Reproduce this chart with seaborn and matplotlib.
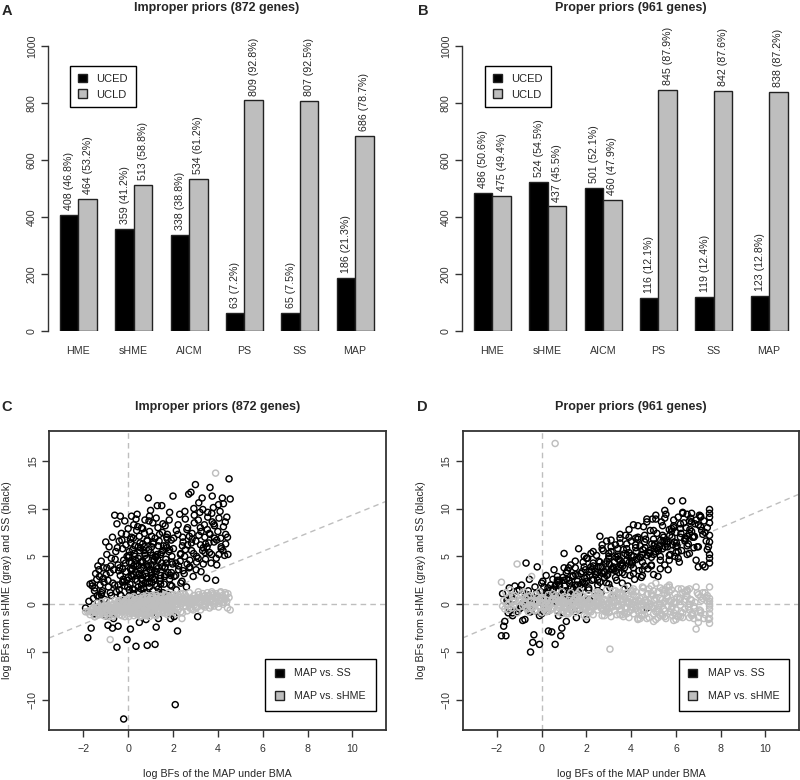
import pandas as pd
import seaborn as sns
import matplotlib.pyplot as plt
from matplotlib.patches import Patch

methods = ['HME', 'sHME', 'AICM', 'PS', 'SS', 'MAP']
models = ['UCED', 'UCLD']
improper_uced = [408, 359, 338, 63, 65, 186]
improper_ucld = [464, 513, 534, 809, 807, 686]
proper_uced = [486, 524, 501, 116, 119, 123]
proper_ucld = [475, 437, 460, 845, 842, 838]
n_improper = 872
n_proper = 961

# panel C: improper priors, one entry per gene (subset)
c_x = [-1.80, -1.75, -1.65, -1.60, -1.60, -1.55, -1.50, -1.45, -1.40, -1.35,
       -1.30, -1.30, -1.25, -1.20, -1.15, -1.10, -1.10, -1.05, -1.00, -1.00,
       -0.95, -0.90, -0.90, -0.85, -0.80, -0.80, -0.75, -0.70, -0.70, -0.65,
       -0.60, -0.60, -0.55, -0.50, -0.50, -0.45, -0.45, -0.40, -0.40, -0.35,
       -0.35, -0.30, -0.30, -0.25, -0.25, -0.20, -0.20, -0.15, -0.15, -0.10,
       -0.10, -0.05, -0.05, 0.00, 0.00, 0.05, 0.05, 0.10, 0.10, 0.15,
       0.15, 0.20, 0.20, 0.25, 0.25, 0.30, 0.30, 0.35, 0.35, 0.40,
       0.40, 0.45, 0.45, 0.50, 0.50, 0.55, 0.55, 0.60, 0.60, 0.65,
       0.65, 0.70, 0.70, 0.75, 0.75, 0.80, 0.80, 0.85, 0.85, 0.90,
       0.90, 0.95, 0.95, 1.00, 1.00, 1.05, 1.05, 1.10, 1.10, 1.15,
       1.15, 1.20, 1.20, 1.25, 1.25, 1.30, 1.30, 1.35, 1.40, 1.45,
       1.50, 1.55, 1.60, 1.65, 1.70, 1.75, 1.80, 1.85, 1.90, 1.95,
       2.00, 2.05, 2.10, 2.15, 2.20, 2.25, 2.30, 2.35, 2.40, 2.45,
       2.50, 2.55, 2.60, 2.65, 2.70, 2.75, 2.80, 2.85, 2.90, 2.95,
       3.00, 3.05, 3.10, 3.15, 3.20, 3.25, 3.30, 3.35, 3.40, 3.45,
       3.50, 3.55, 3.60, 3.65, 3.70, 3.75, 3.80, 3.85, 3.90, 3.95,
       4.00, 4.05, 4.10, 4.15, 4.20, 4.25, 4.30, 4.35, 4.40, 4.50,
       0.02, 0.08, 0.12, 0.18, 0.22, 0.28, 0.32, 0.38, 0.42, 0.48,
       0.52, 0.58, 0.62, 0.68, 0.72, 0.78, 0.82, 0.88, 0.92, 0.98,
       1.02, 1.08, 1.12, 1.18, 1.22, 1.28, 1.32, 1.38, 1.42, 1.48,
       1.52, 1.58, 1.62, 1.68, 1.72, 1.78, 1.82, 1.88, 1.92, 1.98,
       2.02, 2.12, 2.22, 2.32, 2.42, 2.52, 2.62, 2.72, 2.82, 2.92,
       3.02, 3.12, 3.22, 3.32, 3.42, 3.52, 3.62, 3.72, 3.82, 4.55,
       -0.02, -0.12, -0.22, -0.32, -0.42, -0.52, 0.07, 0.17, 0.27, 0.37,
       0.47, 0.57, 0.67, 0.77, 0.87, 0.97, 1.07, 1.17, 1.27, 1.37,
       -0.48, -0.38, -0.28, -0.18, -0.08, 0.03, 0.13, 0.23, 0.33, 0.43,
       0.53, 0.63, 0.73, 0.83, 0.93, 1.03, 1.13, 1.23, 1.33, 1.43,
       1.53, 1.63, 1.73, 1.83, 1.93, 2.03, 2.13, 2.23, 2.33, 2.43,
       2.53, 2.63, 2.73, 2.83, 2.93, 3.03, 3.13, 3.23, 3.33, 3.43,
       3.53, 3.63, 3.73, 3.83, 3.93, 4.03, 4.13, 4.23, 4.33, 4.43,
       -1.48, -1.38, -1.28, -1.18, -1.08, -0.98, -0.88, -0.78, -0.68, -0.58,
       -0.45, -0.35, -0.25, -0.15, -0.05, 0.05, 0.15, 0.25, 0.35, 0.45,
       0.55, 0.65, 0.75, 0.85, 0.95, 1.05, 1.15, 1.25, 1.35, 1.45,
       1.55, 1.65, 1.75, 1.85, 1.95, 2.05, 2.15, 2.25, 2.35, 2.45,
       0.05, 0.15, 0.25, 0.35, 0.45, 0.55, 0.65, 0.75, 0.85, 0.95,
       1.05, 1.15, 1.25, 1.35, 1.45, 1.55, 1.65, 1.75, 1.85, 1.95,
       -1.90, -1.70, -1.50, -1.35, -1.20, -1.05, -0.95, -0.85, -0.75, -0.65,
       2.55, 2.65, 2.75, 2.85, 2.95, 3.05, 3.15, 3.25, 3.35, 3.45,
       3.55, 3.65, 3.75, 3.85, 3.95, 4.05, 4.15, 4.25, 4.35, 4.45,
       0.10, 0.30, 0.50, 0.70, 0.90, 1.10, 1.30, 1.50, 1.70, 1.90]
c_ss = [-3.5, 0.3, -2.5, 2.2, 1.9, 0.6, 1.4, 3.2, 2.6, 4.0,
        0.8, 3.6, 2.0, 4.5, 1.4, 3.8, 2.7, 0.5, 6.5, -1.2,
        5.2, -2.2, 2.5, 6.0, 3.3, 1.2, 4.8, -2.5, 7.0, 3.6,
        9.3, 2.0, 5.5, -4.5, 8.4, -2.3, 4.1, 6.6, 1.5, 9.2,
        3.0, 7.4, 0.4, 5.8, 2.3, -12.0, 4.6, 8.7, 1.9, 6.2,
        3.4, -3.7, 5.0, 7.9, 2.8, 0.9, 4.4, -2.6, 6.8, 3.5,
        9.2, 1.6, 5.7, 3.1, 8.3, 0.5, 6.1, -4.4, 4.2, 2.4,
        9.4, 4.8, 1.3, -1.9, 7.1, 3.6, 5.9, 2.0, 8.0, 4.5,
        6.3, 1.0, 3.8, 8.8, 5.1, -1.6, 2.9, 6.7, -4.3, 11.1,
        4.0, 7.6, 2.2, 5.4, 9.8, 3.3, 6.0, 1.4, 8.5, 4.7,
        2.6, -4.2, 6.9, 3.9, -2.4, 10.3, 5.2, -1.5, 7.3, 3.0,
        10.3, 5.6, 2.1, 8.2, 4.3, 6.8, 1.0, 9.6, -1.5, 5.0,
        11.3, -1.3, -10.5, 7.7, -2.8, 3.6, 9.4, 5.3, 2.4, 6.5,
        3.2, 8.9, 1.8, 6.2, 11.5, 4.6, 11.7, 7.4, 2.9, 9.3,
        12.5, 4.4, -1.3, 7.2, 9.6, 3.4, 11.1, 5.9, 8.3, 4.7,
        2.7, 9.1, 6.4, 12.2, 4.3, 8.6, 10.1, 6.9, 2.5, 4.1,
        7.6, 5.2, 9.7, 6.0, 11.1, 8.1, 5.1, 7.3, 9.1, 13.1,
        4.9, 2.1, 6.4, 3.7, 1.1, 5.3, 2.6, 7.7, 4.0, 3.1,
        5.6, 2.7, 4.4, 1.7, 6.0, 3.2, 4.8, 2.3, 5.7, 3.6,
        4.1, 2.8, 6.3, 3.5, 5.0, 1.9, 4.6, 6.6, 2.4, 5.4,
        3.9, 6.1, 2.9, 4.7, 7.0, 3.3, 5.5, 2.0, 6.7, 4.2,
        5.8, 3.0, 7.3, 4.5, 6.1, 5.0, 7.8, 3.8, 6.4, 5.3,
        6.6, 4.8, 8.0, 5.6, 7.0, 6.0, 7.4, 5.2, 8.4, 11.0,
        1.8, 4.3, 2.6, 0.9, 3.5, 1.3, 0.2, 2.9, 1.5, -0.8,
        0.7, 1.6, -0.5, 2.2, 0.4, 1.0, -0.9, 2.6, 0.1, 1.2,
        5.9, 3.8, 6.7, 2.4, 7.3, 5.1, 3.0, 6.9, 4.6, 8.1,
        6.4, 2.5, 7.4, 4.1, 8.7, 3.0, 6.5, 4.9, 8.0, 2.7,
        7.5, 3.8, 5.9, 8.8, 3.3, 6.9, 4.3, 8.3, 5.2, 7.0,
        9.7, 4.2, 7.1, 5.6, 10.0, 3.6, 8.8, 6.2, 9.9, 5.4,
        7.8, 5.4, 9.5, 6.5, 4.8, 10.4, 6.9, 5.6, 8.6, 7.0,
        1.7, 0.9, 2.9, 1.2, 2.3, 3.1, 1.8, 4.0, 2.2, 4.7,
        2.0, 1.0, 3.7, 0.6, 2.5, 1.5, 4.3, 0.8, 3.3, 1.8,
        0.6, 3.0, 1.2, 3.9, 1.8, 2.3, 0.9, 3.4, 1.6, 2.1,
        1.2, 3.1, 0.4, 2.6, 1.9, 2.9, 1.5, 4.0, 2.2, 3.5,
        5.5, 7.0, 4.0, 8.9, 6.0, 4.4, 7.9, 5.3, 6.6, 9.2,
        7.1, 4.5, 9.0, 6.1, 5.2, 8.4, 3.9, 7.3, 5.7, 4.4,
        -0.4, 2.1, -1.0, 0.2, 1.0, -0.5, 3.8, -1.0, 0.9, -1.5,
        5.7, 8.0, 3.9, 6.8, 8.5, 5.0, 10.6, 7.6, 4.2, 6.3,
        9.6, 7.3, 11.3, 8.2, 6.7, 9.0, 5.8, 10.5, 6.3, 5.2,
        3.7, 5.0, 3.2, 5.6, 2.7, 5.1, 3.7, 4.3, 6.1, 3.0]
c_shme = [-0.8, -0.7, -0.6, -0.9, -0.5, -0.4, -0.8, -0.6, -0.3, -0.7,
          -0.5, -0.2, -0.6, -0.4, -1.0, -0.3, -0.5, -0.7, -0.1, -0.4,
          -0.3, -0.9, -0.5, -0.2, -3.7, -0.6, -0.1, -0.8, -0.4, 0.0,
          -0.3, -0.6, -0.2, -0.7, -0.1, -0.5, -0.3, 0.1, -0.4, -0.2,
          -0.6, 0.0, -0.8, -0.3, -0.1, 0.2, -0.5, -0.2, -0.4, 0.1,
          -0.3, -0.7, 0.0, -0.2, -0.5, 0.2, -0.6, -0.1, -0.4, -0.9,
          -0.5, 0.0, -0.2, -0.3, 0.1, -0.6, -0.4, -0.8, 0.0, -0.2,
          0.2, -0.3, -0.5, -0.9, 0.1, -0.2, -0.4, 0.3, -0.1, -0.6,
          0.0, -0.3, 0.2, -0.1, -0.5, -1.1, 0.1, -0.2, -0.7, 0.3,
          -0.4, 0.0, -0.6, 0.2, -0.2, 0.4, -0.3, -0.1, 0.1, -0.5,
          0.2, -0.2, 0.0, 0.3, -1.2, -0.1, 0.4, -0.5, 0.1, -0.3,
          0.3, -0.2, 0.5, 0.0, -0.4, 0.2, -0.3, 0.6, -0.8, 0.1,
          0.4, -0.5, 0.0, 0.6, -0.3, 0.2, 0.7, -0.1, -1.5, 0.3,
          0.5, -0.2, 0.8, 0.1, 0.4, -0.4, 0.6, 0.2, -0.6, 0.9,
          0.3, 0.7, -0.3, 1.0, 0.2, 0.5, -0.1, 0.8, 0.4, 0.0,
          0.6, 0.2, 0.9, 0.4, -0.2, 1.1, 0.3, 0.7, 13.7, 0.5,
          0.8, 0.1, 1.2, 0.4, 0.9, 0.2, 0.6, 1.0, 0.3, 0.7,
          -0.4, -0.2, 0.0, -0.5, -0.3, 0.1, -0.1, -0.4, -0.2, 0.0,
          -0.3, -0.1, -0.5, 0.1, -0.2, 0.0, -0.4, 0.2, -0.1, -0.3,
          0.1, -0.2, 0.0, 0.3, -0.4, 0.2, -0.1, 0.1, -0.3, 0.2,
          0.0, 0.3, -0.2, 0.4, 0.1, -0.1, 0.3, 0.0, 0.5, -0.2,
          0.2, 0.5, 0.0, 0.4, 0.1, 0.6, 0.3, -0.1, 0.5, 0.2,
          0.4, 0.7, 0.2, 0.6, 0.9, 0.3, 0.8, 0.5, 1.0, -0.6,
          -0.6, -0.4, -0.2, -0.7, -0.3, -0.5, -0.8, -0.3, -0.6, -1.0,
          -0.1, -0.6, 0.1, -0.4, -0.9, 0.0, -0.5, -0.2, -0.7, 0.0,
          -1.0, 0.4, -1.2, -0.6, 0.5, -1.3, 0.6, -0.9, 0.4, -1.1,
          0.6, -1.0, 0.7, -1.2, 0.5, -0.9, 0.8, -1.1, 0.6, -0.8,
          0.8, -0.9, 0.9, -0.7, 1.0, -0.8, 0.9, -0.6, 1.1, -0.9,
          1.0, -0.7, 1.2, -0.5, 0.9, -0.4, 1.3, -0.6, 1.1, -0.3,
          1.2, -0.4, 1.3, -0.2, 1.1, -0.3, 1.3, 0.0, 1.2, -0.4,
          -1.3, 0.1, -1.1, 0.2, -1.2, 0.3, -1.0, 0.2, -1.3, 0.4,
          0.3, -1.1, 0.5, -1.3, 0.4, -1.0, 0.6, -1.2, 0.5, -0.9,
          -1.2, 0.6, -1.0, 0.7, -1.3, 0.6, -1.1, 0.8, -0.9, 0.7,
          -0.9, 0.9, -1.1, 0.8, -0.7, 1.0, -1.0, 0.9, -0.8, 1.1,
          0.7, -0.9, 0.8, -1.0, 0.6, -1.3, 0.8, -1.2, 0.9, -1.0,
          0.9, -0.6, 1.0, -0.8, 0.8, -0.7, 1.0, -0.9, 0.7, -0.6,
          -0.8, -1.1, -1.3, -1.0, -0.9, -1.2, -0.7, -1.3, -0.8, -1.1,
          -0.2, 0.4, 0.1, 0.6, -0.1, 0.5, 0.2, 0.7, -0.2, 0.4,
          0.9, 0.3, 0.6, 0.1, 0.8, 0.4, 0.7, 0.2, 0.5, 1.1,
          0.0, 0.2, -0.1, 0.3, 0.0, 0.2, 0.1, 0.4, 0.2, 0.5]

# panel D: proper priors
d_x = [-1.80, -1.75, -1.70, -1.65, -1.60, -1.55, -1.50, -1.45, -1.40, -1.35,
       -1.30, -1.20, -1.10, -1.00, -0.90, -0.85, -0.80, -0.75, -0.70, -0.65,
       -0.60, -0.55, -0.50, -0.45, -0.40, -0.35, -0.30, -0.25, -0.20, -0.15,
       -0.10, -0.05, 0.00, 0.05, 0.10, 0.15, 0.20, 0.25, 0.30, 0.35,
       0.40, 0.45, 0.50, 0.55, 0.60, 0.65, 0.70, 0.75, 0.80, 0.85,
       0.90, 0.95, 1.00, 1.05, 1.10, 1.15, 1.20, 1.25, 1.30, 1.35,
       1.40, 1.45, 1.50, 1.55, 1.60, 1.65, 1.70, 1.75, 1.80, 1.85,
       1.90, 1.95, 2.00, 2.05, 2.10, 2.15, 2.20, 2.25, 2.30, 2.35,
       2.40, 2.45, 2.50, 2.55, 2.60, 2.65, 2.70, 2.75, 2.80, 2.85,
       2.90, 2.95, 3.00, 3.05, 3.10, 3.15, 3.20, 3.25, 3.30, 3.35,
       3.40, 3.45, 3.50, 3.55, 3.60, 3.65, 3.70, 3.75, 3.80, 3.85,
       3.90, 3.95, 4.00, 4.05, 4.10, 4.15, 4.20, 4.25, 4.30, 4.35,
       4.40, 4.45, 4.50, 4.55, 4.60, 4.65, 4.70, 4.75, 4.80, 4.85,
       4.90, 4.95, 5.00, 5.05, 5.10, 5.15, 5.20, 5.25, 5.30, 5.35,
       5.40, 5.45, 5.50, 5.55, 5.60, 5.65, 5.70, 5.75, 5.80, 5.85,
       5.90, 5.95, 6.00, 6.05, 6.10, 6.15, 6.20, 6.25, 6.30, 6.35,
       6.40, 6.50, 6.60, 6.70, 6.80, 6.90, 7.00, 7.10, 7.20, 7.30,
       7.40, 7.50, 7.50, 7.50, 7.50, 7.50, 7.50, 7.50, 7.50, 7.50,
       0.12, 0.32, 0.52, 0.72, 0.92, 1.12, 1.32, 1.52, 1.72, 1.92,
       2.12, 2.32, 2.52, 2.72, 2.92, 3.12, 3.32, 3.52, 3.72, 3.92,
       4.12, 4.32, 4.52, 4.72, 4.92, 5.12, 5.32, 5.52, 5.72, 5.92,
       1.02, 1.22, 1.42, 1.62, 1.82, 2.02, 2.22, 2.42, 2.62, 2.82,
       3.02, 3.22, 3.42, 3.62, 3.82, 4.02, 4.22, 4.42, 4.62, 4.82,
       5.02, 5.22, 5.42, 5.62, 5.82, 6.02, 6.22, 6.42, 6.62, 6.82,
       -1.25, -0.95, -0.72, -0.48, -0.22, 0.08, 0.28, 0.58, 0.78, 0.98,
       6.45, 6.55, 6.65, 6.75, 6.85, 6.95, 7.05, 7.15, 7.25, 7.35,
       -1.50, -1.30, -1.10, -0.90, -0.70, -0.50, -0.30, -0.10, 0.10, 0.30,
       0.50, 0.70, 0.90, 1.10, 1.30, 1.50, 1.70, 1.90, 2.10, 2.30,
       2.50, 2.70, 2.90, 3.10, 3.30, 3.50, 3.70, 3.90, 4.10, 4.30,
       4.50, 4.70, 4.90, 5.10, 5.30, 5.50, 5.70, 5.90, 6.10, 6.30,
       6.50, 6.70, 6.90, 7.10, 7.30, 7.45, 0.60, 1.60, 2.60, 3.60,
       1.00, 1.40, 1.80, 2.20, 2.60, 3.00, 3.40, 3.80, 4.20, 4.60,
       5.00, 5.40, 5.80, 6.20, 6.60, 7.00, 0.20, 0.60, 1.20, 1.60,
       2.00, 2.40, 2.80, 3.20, 3.60, 4.00, 4.40, 4.80, 5.20, 5.60,
       6.00, 6.40, 6.80, 7.20, -0.80, -0.40, 0.00, 0.40, 0.80, 1.20,
       1.50, 1.90, 2.30, 2.70, 3.10, 3.50, 3.90, 4.30, 4.70, 5.10,
       5.50, 5.90, 6.30, 6.70, 7.10, 0.90, 1.30, 1.70, 2.10, 2.50,
       2.90, 3.30, 3.70, 4.10, 4.50, 4.90, 5.30, 5.70, 6.10, 6.50,
       3.00, 3.40, 3.80, 4.20, 4.60, 5.00, 5.40, 5.80, 6.20, 6.60,
       0.00, 0.50, 1.00, 1.50, 2.00, 2.50, 3.00, 3.50, 4.00, 4.50,
       5.00, 5.50, 6.00, 6.50, 7.00, 7.40, -1.00, -0.60, -0.20, 0.20]
d_ss = [-3.3, 1.1, -2.3, -1.8, -3.3, 0.4, -0.9, 1.7, -0.6, 0.8,
        -1.2, 1.9, -0.8, 1.5, 2.0, -1.7, 0.2, -1.6, 4.3, 1.0,
        -0.3, 2.6, -5.0, 0.6, -4.0, -3.2, 1.8, -0.7, 3.9, 0.3,
        -4.2, 1.3, -1.0, 2.4, 0.6, -0.5, 3.0, 1.1, -2.8, 0.1,
        2.0, -2.9, 1.5, 3.6, -4.2, 0.8, 2.5, -1.2, 1.9, -3.3,
        -2.5, 2.8, 5.3, 1.4, -1.8, 3.5, 0.9, 2.2, 4.1, -0.6,
        2.9, 1.2, 3.8, -1.4, 2.4, 5.8, 0.5, 3.2, 1.7, 4.4,
        2.2, 3.6, -1.6, 4.8, 1.5, 3.0, 5.3, 2.5, 4.0, 0.8,
        3.4, 5.1, 2.0, 4.5, 7.1, 1.2, 3.9, 5.6, 2.8, 4.2,
        6.6, 3.1, 4.8, 1.7, 5.5, 3.6, 0.8, 4.4, 6.2, 2.5,
        5.0, 3.3, 6.9, 4.1, 2.2, 5.7, 3.8, 7.2, 4.6, 1.9,
        5.4, 3.0, 6.6, 4.3, 8.3, 2.6, 5.9, 4.7, 7.0, 3.5,
        6.1, 2.8, 5.2, 8.1, 4.0, 6.8, -0.4, 3.7, 5.6, 7.7,
        4.9, 8.9, 3.1, 6.3, 5.5, 7.4, 2.9, 6.0, 4.6, 8.6,
        5.8, 7.0, 4.1, 9.4, 6.5, 3.6, 7.8, 5.2, 10.8, 6.2,
        8.2, 5.0, 7.5, 6.1, 9.1, 4.4, 7.0, 5.6, 10.8, 8.5,
        6.8, 9.4, 5.3, 7.6, 5.9, 8.8, 3.9, 9.2, 4.1, 7.5,
        5.7, 9.9, 9.5, 9.1, 8.5, 7.2, 6.5, 5.2, 4.8, 4.3,
        0.9, 0.3, 1.6, 2.3, 1.0, 2.6, 1.8, 3.1, 2.0, 2.7,
        3.4, 2.6, 3.9, 3.2, 4.5, 3.7, 4.9, 4.1, 5.3, 4.4,
        5.0, 4.8, 5.7, 5.1, 6.3, 5.9, 6.7, 6.0, 7.2, 6.5,
        1.9, 2.5, 1.6, 3.0, 2.3, 2.8, 3.6, 3.1, 3.9, 3.4,
        4.2, 3.7, 4.7, 4.0, 5.1, 4.5, 5.5, 4.9, 5.9, 5.3,
        6.1, 5.6, 6.6, 6.0, 7.0, 6.4, 7.4, 6.9, 7.8, 7.1,
        0.5, -0.2, 0.9, -0.6, 1.2, 0.0, 1.7, 0.4, 2.1, 1.3,
        8.0, 6.3, 9.0, 7.0, 8.4, 6.0, 9.3, 7.7, 8.7, 6.6,
        0.3, -0.9, 1.4, -0.3, 0.9, -0.8, 0.6, -1.2, 1.8, -0.7,
        0.2, 2.9, -0.9, 3.3, -0.4, 2.0, -0.6, 3.9, 0.5, 4.3,
        1.4, 5.8, 2.2, 6.0, 2.8, 6.4, 1.6, 7.0, 3.2, 6.8,
        3.0, 8.6, 4.1, 8.9, 3.7, 9.0, 4.6, 8.0, 4.8, 9.6,
        5.2, 9.5, 4.6, 8.1, 3.9, 6.0, 0.9, 1.4, 2.3, 3.3,
        2.5, 3.0, 3.4, 3.9, 4.4, 5.0, 5.2, 5.8, 6.2, 6.5,
        6.8, 7.2, 7.6, 7.9, 7.4, 8.3, 1.2, 1.9, 1.1, 2.0,
        2.4, 3.1, 3.3, 3.9, 4.3, 4.1, 4.9, 5.4, 5.8, 6.3,
        6.0, 6.6, 7.0, 7.3, -0.1, 0.5, 0.8, 1.5, 2.5, 3.8,
        4.5, 5.0, 5.5, 6.2, 6.7, 7.3, 7.8, 8.2, 8.9, 9.3,
        9.8, 8.8, 9.5, 8.6, 9.1, 1.0, 0.4, 1.1, 1.7, 2.5,
        3.0, 3.5, 3.1, 3.8, 4.4, 4.0, 5.0, 5.1, 5.5, 6.1,
        5.3, 5.8, 6.3, 6.9, 7.2, 7.7, 8.2, 7.9, 8.4, 8.7,
        2.2, 2.6, 3.8, 1.0, 4.8, 3.3, 2.1, 4.6, 5.1, 3.6,
        5.2, 6.6, 5.4, 7.1, 6.0, 8.0, -0.5, 1.4, 0.2, -0.3]
d_shme = [2.3, -0.2, 0.4, -0.5, 1.2, -0.1, 0.7, 0.2, 1.5, -0.4,
          0.3, 0.9, 4.2, -0.3, 0.5, -0.2, 1.3, 0.1, 0.6, -0.5,
          0.8, -0.1, 0.4, 2.9, -0.4, 0.2, -0.6, 1.0, 0.3, -0.2,
          0.5, -0.3, 0.2, 0.7, -0.5, 0.1, -0.2, 0.4, -0.7, 0.0,
          0.3, -0.4, 0.6, 0.1, 16.8, 0.5, -0.6, 0.2, -0.1, 0.4,
          -1.0, 0.3, -0.3, 0.6, -0.5, 0.1, 0.4, -0.2, 0.2, -0.4,
          0.0, 0.5, -0.3, 0.2, -0.6, 0.4, 0.1, -0.2, 0.3, -0.5,
          0.2, -0.4, 0.6, -0.1, 0.3, -0.7, 0.1, 0.5, -0.3, 0.0,
          -0.2, 0.4, -0.6, 0.1, 0.7, -0.4, 0.2, -0.1, 0.5, -0.8,
          0.3, -0.5, 0.0, -4.7, 0.6, -0.3, 0.9, -0.7, 0.2, -1.1,
          0.4, -0.2, 1.0, -0.6, 0.3, -1.3, 0.7, -0.4, 1.2, 0.1,
          -0.8, 0.5, -0.3, 1.4, -1.0, 0.2, -0.5, 0.8, -1.6, 0.3,
          0.6, -1.2, 0.1, 1.7, -0.6, 0.4, -0.2, 1.1, -1.4, 0.0,
          -0.3, 0.9, -1.8, 0.5, 2.2, -0.7, 1.3, -0.1, 0.6, -1.0,
          1.5, -0.5, 0.3, -1.5, 0.9, -0.2, 1.8, -0.8, 0.4, -1.2,
          0.2, 1.1, -0.6, 0.7, -1.3, 0.5, -0.1, 1.6, -0.9, 0.3,
          -0.5, 0.8, -1.4, 0.4, -0.2, -2.6, 1.0, -0.7, 0.6, -1.1,
          0.3, -2.0, -1.5, -0.5, 0.0, 0.3, 1.8, -0.2, 0.6, -1.0,
          -0.2, 0.1, -0.4, 0.3, 0.0, -0.3, 0.2, -0.1, 0.4, -0.2,
          0.1, -0.3, 0.4, 0.0, -0.5, 0.3, -0.2, 0.5, -0.4, 0.2,
          -0.1, 0.4, -0.6, 0.2, -0.3, 0.6, 0.0, -0.7, 0.3, 0.1,
          0.2, -0.1, 0.3, -0.4, 0.0, 0.2, -0.3, 0.1, -0.2, 0.4,
          -0.3, 0.2, -0.1, 0.5, -0.4, 0.1, 0.3, -0.6, 0.2, -0.2,
          0.4, -0.5, 0.1, 0.7, -0.3, 0.2, -0.8, 0.5, 0.0, -0.4,
          -0.1, 0.4, 0.0, -0.3, 0.2, 0.5, -0.2, 0.1, -0.4, 0.3,
          0.9, -0.3, 0.5, -1.0, 0.2, 1.2, -0.6, 0.4, -1.5, 0.7,
          -0.6, 0.8, -0.9, 1.1, -0.4, 0.9, -0.7, 1.3, -0.5, 1.0,
          1.1, -0.8, 1.3, -1.0, 1.2, -0.9, 1.4, -1.2, 1.0, -1.1,
          1.3, -1.2, 1.5, -1.3, 1.4, -1.1, 1.7, -1.4, 1.6, -1.5,
          1.8, -1.5, 1.9, -1.6, 1.7, -1.3, 2.0, -1.7, 1.6, -1.4,
          1.5, -1.2, 1.8, -0.9, 1.2, -1.6, 0.6, 0.7, 0.9, 1.0,
          0.8, -0.6, 0.9, -0.8, 1.1, -0.9, 1.2, -1.0, 1.3, -1.1,
          1.4, -1.2, 1.5, -1.3, 1.6, -1.4, -0.8, 0.9, -1.0, 1.1,
          -1.3, 1.2, -1.2, 1.4, -1.1, 1.3, -1.5, 1.6, -1.4, 1.8,
          -1.6, 1.3, -1.5, 1.2, 0.2, -0.3, 0.6, -0.6, 0.4, -0.8,
          0.6, -0.4, 0.7, -0.5, 0.8, -0.6, 0.9, -0.7, 1.0, -0.8,
          1.1, -0.9, 1.2, -1.0, 0.8, 0.5, -0.5, 0.6, -0.6, 0.7,
          -0.7, 0.8, -0.9, 1.0, -1.1, 1.1, -1.2, 1.3, -1.3, 1.4,
          0.2, -0.2, 0.3, -0.3, 0.4, -0.4, 0.5, -0.5, 0.6, -0.6,
          -0.9, 0.5, -0.7, 0.9, -0.5, 1.1, -0.8, 1.2, -0.6, 1.3,
          -1.0, 1.5, -1.2, 1.3, -1.9, 0.9, 0.3, -0.8, 0.7, -0.4]

GRAY = '#bebebe'
EDGE = '#222222'
FS = 7.7

sns.set_theme(style='ticks')
plt.rcParams['font.family'] = ['Liberation Sans', 'DejaVu Sans']
plt.rcParams['axes.edgecolor'] = '#333333'
plt.rcParams['xtick.color'] = '#333333'
plt.rcParams['ytick.color'] = '#333333'

fig = plt.figure(figsize=(8, 7.8), dpi=100)


def bar_panel(rect, uced, ucld, n, title, letter, letter_x, leg_x):
    ax = fig.add_axes(rect)
    df = pd.DataFrame({'method': methods * 2,
                       'model': ['UCED'] * 6 + ['UCLD'] * 6,
                       'count': uced + ucld})
    sns.barplot(data=df, x='method', y='count', hue='model', hue_order=models,
                palette=['black', GRAY], saturation=1, width=2 / 3,
                edgecolor=EDGE, linewidth=1, legend=False, ax=ax)
    for cont, vals in zip(ax.containers, [uced, ucld]):
        labs = [f'{v} ({100 * v / n:.1f}%)' for v in vals]
        ax.bar_label(cont, labels=labs, rotation=90, padding=3.5, fontsize=FS)
    ax.set_xlim(-0.55, 5.55)
    ax.set_ylim(0, 1000)
    ax.set_yticks(range(0, 1001, 200))
    ax.set_xlabel('')
    ax.set_ylabel('')
    sns.despine(ax=ax, bottom=True)
    ax.tick_params(axis='x', length=0, pad=11, labelsize=FS)
    ax.tick_params(axis='y', length=5, width=1, pad=3, labelsize=FS, labelrotation=90)
    for lab in ax.get_yticklabels():
        lab.set_va('center')
    ax.spines['left'].set_linewidth(1)
    handles = [Patch(facecolor='black', edgecolor=EDGE), Patch(facecolor=GRAY, edgecolor=EDGE)]
    leg = ax.legend(handles, models, loc='upper left', bbox_to_anchor=(leg_x, 0.93),
                    borderaxespad=0, fancybox=False, framealpha=1, edgecolor='black',
                    fontsize=8, handlelength=0.8, handleheight=0.8, handletextpad=0.9,
                    labelspacing=0.5, borderpad=0.7)
    leg.get_frame().set_linewidth(1)
    fig.text(rect[0] + rect[2] / 2, 1 - 8 / 780, title, fontsize=9,
             fontweight='bold', ha='center', va='center')
    fig.text(letter_x / 800, 1 - 11 / 780, letter, fontsize=10.5,
             fontweight='bold', ha='center', va='center')
    return ax


def scatter_panel(rect, x, ss, shme, slope, intercept, title, letter, letter_x, lx):
    ax = fig.add_axes(rect)
    dash = dict(color=GRAY, lw=1, ls=(0, (4, 3)), zorder=0)
    ax.axhline(0, **dash)
    ax.axvline(0, **dash)
    ax.axline((0, intercept), slope=slope, **dash)
    sns.scatterplot(x=x, y=ss, ax=ax, marker='o', s=19, color='black',
                    facecolor='none', edgecolor='black', linewidth=1.05)
    sns.scatterplot(x=x, y=shme, ax=ax, marker='o', s=19, color=GRAY,
                    facecolor='none', edgecolor=GRAY, linewidth=1.05)
    ax.set_xlim(-3.53, 11.5)
    ax.set_ylim(-13.15, 18.1)
    ax.set_xticks([-2, 0, 2, 4, 6, 8, 10])
    ax.set_yticks([-10, -5, 0, 5, 10, 15])
    ax.tick_params(length=5, width=1, labelsize=FS)
    ax.tick_params(axis='x', pad=5)
    ax.tick_params(axis='y', pad=3, labelrotation=90)
    for lab in ax.get_yticklabels():
        lab.set_va('center')
    for sp in ax.spines.values():
        sp.set_linewidth(1.3)
    ax.set_xlabel('log BFs of the MAP under BMA', fontsize=FS)
    ax.set_ylabel('log BFs from sHME (gray) and SS (black)', fontsize=FS)
    ax.xaxis.set_label_coords(0.5, -44 / 299)
    ax.xaxis.label.set_va('center')
    ax.yaxis.set_label_coords(-42 / 337, 0.5)
    ax.yaxis.label.set_va('center')
    handles = [Patch(facecolor='black', edgecolor=EDGE), Patch(facecolor=GRAY, edgecolor=EDGE)]
    leg = ax.legend(handles, ['MAP vs. SS', 'MAP vs. sHME'], loc='lower right',
                    bbox_to_anchor=(lx, 0.064), borderaxespad=0, fancybox=False,
                    framealpha=1, edgecolor='black', fontsize=FS, handlelength=0.8,
                    handleheight=0.8, handletextpad=1.0, labelspacing=1.2, borderpad=0.9)
    leg.get_frame().set_linewidth(1)
    fig.text(rect[0] + rect[2] / 2, 1 - 407 / 780, title, fontsize=9,
             fontweight='bold', ha='center', va='center')
    fig.text(letter_x / 800, 1 - 407 / 780, letter, fontsize=10.5,
             fontweight='bold', ha='center', va='center')
    return ax


bar_panel([0.06, 0.5756, 0.4219, 0.3654], improper_uced, improper_ucld, n_improper,
          'Improper priors (872 genes)', 'A', 7, 0.065)
bar_panel([0.5775, 0.5756, 0.4219, 0.3654], proper_uced, proper_ucld, n_proper,
          'Proper priors (961 genes)', 'B', 423, 0.068)
scatter_panel([0.06125, 0.0641, 0.42125, 0.3833], c_x, c_ss, c_shme, 0.95, -0.18,
              'Improper priors (872 genes)', 'C', 7, 0.969)
scatter_panel([0.5784, 0.0641, 0.4204, 0.3833], d_x, d_ss, d_shme, 1.0, 0.0,
              'Proper priors (961 genes)', 'D', 422, 0.970)

fig.savefig('out.png', dpi=100)
